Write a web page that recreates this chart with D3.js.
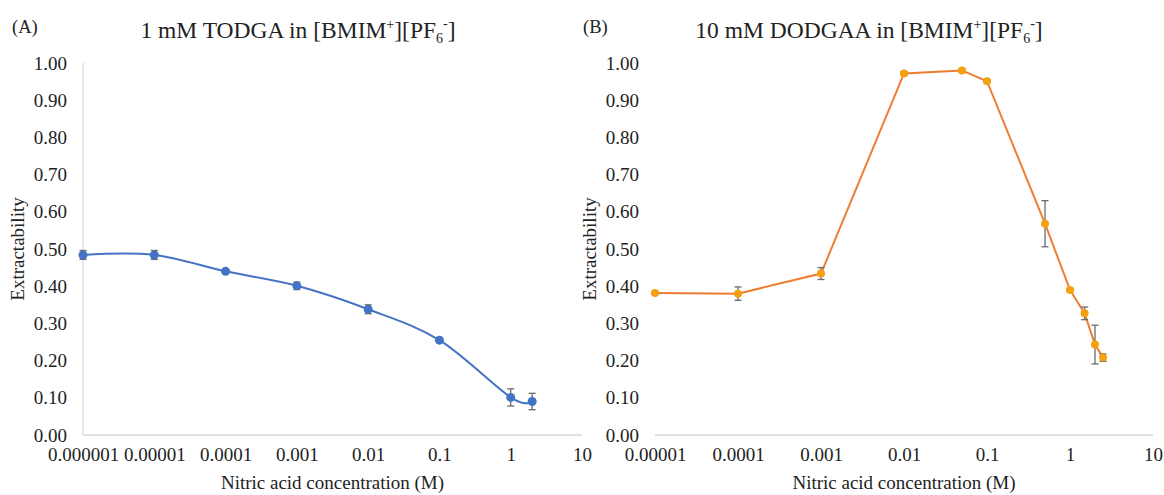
<!DOCTYPE html>
<html>
<head>
<meta charset="utf-8">
<script src="https://cdn.jsdelivr.net/npm/d3@7"></script>
<style>
  body { margin: 0; background: #fff; }
  svg { display: block; font-family: "Liberation Serif", "Times New Roman", serif; }
</style>
</head>
<body>
<svg width="1164" height="495"></svg>
<script>
// panel A: 1 mM TODGA
var concA = [1e-6, 1e-5, 1e-4, 1e-3, 1e-2, 0.1, 1, 2];
var extA = [0.484, 0.484, 0.440, 0.401, 0.338, 0.255, 0.101, 0.090];
var errA = [0.012, 0.012, 0.004, 0.010, 0.012, 0.004, 0.023, 0.022];
var xTicksA = ["0.000001", "0.00001", "0.0001", "0.001", "0.01", "0.1", "1", "10"];

// panel B: 10 mM DODGAA
var concB = [1e-5, 1e-4, 1e-3, 1e-2, 0.05, 0.1, 0.5, 1, 1.5, 2, 2.5];
var extB = [0.382, 0.380, 0.434, 0.972, 0.980, 0.951, 0.568, 0.390, 0.327, 0.243, 0.208];
var errB = [0.003, 0.018, 0.016, 0.004, 0.004, 0.004, 0.062, 0.004, 0.017, 0.052, 0.010];
var xTicksB = ["0.00001", "0.0001", "0.001", "0.01", "0.1", "1", "10"];

var yTicks = [0, 0.1, 0.2, 0.3, 0.4, 0.5, 0.6, 0.7, 0.8, 0.9, 1.0];

var svg = d3.select("svg");

function drawPanel(p) {
  var g = svg.append("g");
  var data = p.x.map((d, i) => ({x: d, y: p.y[i], e: p.err[i]}));

  var scX = d3.scaleLog().domain([+p.ticks[0], +p.ticks[p.ticks.length - 1]]).range(p.xr);
  var scY = d3.scaleLinear().domain([0, 1]).range([435, 63]);

  // axis lines
  g.append("line").attr("x1", p.xr[0]).attr("x2", p.xr[1]).attr("y1", 435).attr("y2", 435)
    .attr("stroke", "#d9d9d9").attr("stroke-width", 1.3);
  if (p.yLine) {
    g.append("line").attr("x1", p.xr[0]).attr("x2", p.xr[0]).attr("y1", 63).attr("y2", 435)
      .attr("stroke", "#d9d9d9").attr("stroke-width", 1.3);
  }

  // tick labels
  var axX = d3.axisBottom(scX).tickValues(p.ticks.map(Number))
    .tickFormat((d, i) => p.ticks[i]).tickSize(0).tickPadding(13);
  g.append("g").attr("transform", "translate(0,435)").call(axX)
    .call(a => a.select(".domain").remove())
    .selectAll("text").attr("font-size", 19).attr("font-family", "Liberation Serif").attr("fill", "#222");

  var axY = d3.axisLeft(scY).tickValues(yTicks).tickFormat(d3.format(".2f"))
    .tickSize(0).tickPadding(p.xr[0] - p.yLab);
  g.append("g").attr("transform", "translate(" + p.xr[0] + ",0)").call(axY)
    .call(a => a.select(".domain").remove())
    .selectAll("text").attr("font-size", 19).attr("font-family", "Liberation Serif").attr("fill", "#222");

  // line
  var ln = d3.line().x(d => scX(d.x)).y(d => scY(d.y)).curve(p.curve);
  g.append("path").attr("d", ln(data)).attr("fill", "none")
    .attr("stroke", p.lineColor).attr("stroke-width", 2);

  // error bars
  var eb = g.append("g").attr("stroke", "#6b6b6b").attr("stroke-width", 1.3);
  data.forEach(function (d) {
    var x = scX(d.x), y0 = scY(d.y - d.e), y1 = scY(d.y + d.e);
    eb.append("line").attr("x1", x).attr("x2", x).attr("y1", y0).attr("y2", y1);
    eb.append("line").attr("x1", x - 3.5).attr("x2", x + 3.5).attr("y1", y0).attr("y2", y0);
    eb.append("line").attr("x1", x - 3.5).attr("x2", x + 3.5).attr("y1", y1).attr("y2", y1);
  });

  // markers
  g.append("g").selectAll("circle").data(data).enter().append("circle")
    .attr("cx", d => scX(d.x)).attr("cy", d => scY(d.y))
    .attr("r", p.r).attr("fill", p.markColor);

  // titles
  var t = svg.append("text").attr("x", p.tx).attr("y", 38).attr("text-anchor", "middle")
    .attr("font-size", 23.5).attr("fill", "#222");
  t.append("tspan").text(p.title + " in [BMIM");
  t.append("tspan").text("+").attr("font-size", 14).attr("dy", -9);
  t.append("tspan").text("][PF").attr("dy", 9);
  t.append("tspan").text("6").attr("font-size", 14).attr("dy", 5);
  t.append("tspan").text("-").attr("font-size", 14).attr("dy", -15);
  t.append("tspan").text("]").attr("dy", 10);

  svg.append("text").attr("x", p.lx).attr("y", 33).attr("font-size", 18.5).attr("fill", "#222").text(p.label);

  svg.append("text").attr("x", (p.xr[0] + p.xr[1]) / 2).attr("y", 489).attr("text-anchor", "middle")
    .attr("font-size", 19).attr("fill", "#222").text("Nitric acid concentration (M)");

  svg.append("text").attr("transform", "translate(" + p.yt + ",249) rotate(-90)")
    .attr("text-anchor", "middle").attr("font-size", 19).attr("fill", "#222").text("Extractability");
}

drawPanel({
  x: concA, y: extA, err: errA, ticks: xTicksA, xr: [83, 582], yLab: 67, yLine: true,
  curve: d3.curveCardinal.tension(0), lineColor: "#4472c4", markColor: "#4472c4", r: 4.5,
  title: "1 mM TODGA", tx: 298, label: "(A)", lx: 12, yt: 24
});

drawPanel({
  x: concB, y: extB, err: errB, ticks: xTicksB, xr: [655, 1153], yLab: 639, yLine: false,
  curve: d3.curveLinear, lineColor: "#ed7d31", markColor: "#f5a00f", r: 4,
  title: "10 mM DODGAA", tx: 869, label: "(B)", lx: 583, yt: 596
});
</script>
</body>
</html>
